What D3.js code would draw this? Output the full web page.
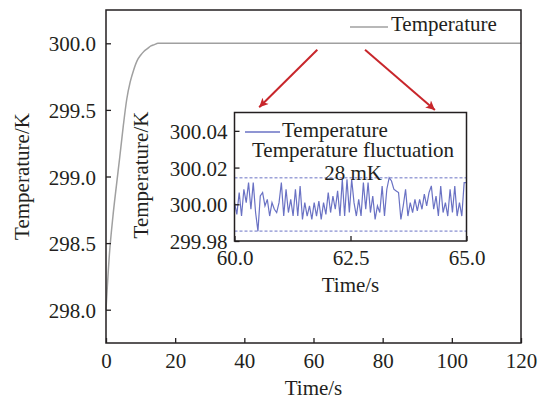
<!DOCTYPE html>
<html><head><meta charset="utf-8">
<script src="https://cdn.jsdelivr.net/npm/d3@7"></script>
<style>body{margin:0;background:#fff}svg{display:block}text{font-family:"Liberation Serif","Times New Roman",serif;fill:#231f20}</style>
</head><body><svg id="c" width="548" height="404"></svg>
<script>
// Main series
const mainTime = [0,1,2,3,4,5,6,7,8,9,10,11,12,13,14,15,16,20,40,60,80,100,120];
const mainTemp = [298.00,298.42,298.70,298.93,299.15,299.38,299.58,299.71,299.80,299.87,299.91,299.94,299.96,299.98,299.99,300.00,300.00,300.00,300.00,300.00,300.00,300.00,300.00];
const mainXTicks = [0,20,40,60,80,100,120];
const mainYTicks = [298.0,298.5,299.0,299.5,300.0];
// Inset series (60 s – 65 s)
const insetTemp = [300.0009,299.9945,300.0064,299.9936,300.0082,300.0009,300.0118,299.9973,300.0118,299.9955,
299.9854,300.0045,300.0064,299.9991,300.0027,299.9936,300.0009,299.9973,299.9955,300.0009,
300.0118,299.9936,300.0082,299.9955,300.0027,299.9936,300.0082,299.9936,300.0100,299.9918,
300.0009,299.9936,299.9991,299.9918,300.0009,299.9936,300.0018,299.9918,300.0009,299.9945,
300.0064,299.9955,300.0045,299.9973,300.0073,299.9936,300.0136,299.9936,300.0136,299.9955,
300.0136,300.0009,299.9936,300.0027,299.9936,300.0118,299.9973,300.0118,299.9955,300.0045,
299.9918,299.9991,299.9955,300.0100,299.9936,300.0082,300.0145,300.0127,300.0082,300.0073,
300.0064,299.9918,299.9991,300.0082,299.9936,300.0009,299.9955,300.0027,299.9964,300.0027,
299.9973,300.0055,299.9991,300.0064,300.0100,299.9973,300.0045,299.9936,300.0100,299.9955,
300.0009,299.9936,300.0082,299.9955,300.0100,299.9936,300.0009,299.9936,300.0118,300.0118];
const insetStart = 60, insetEnd = 65;
const insetXTicks = [60.0,62.5,65.0];
const insetYTicks = [299.98,300.00,300.02,300.04];
const bandTop = 300.0144, bandBottom = 299.9854;
const legendLabel = "Temperature";
const noteLines = ["Temperature fluctuation","28 mK"];
// arrows in main-chart data coordinates [t0,T0,t1,T1]
const arrows = [[61.1,299.951,44.3,299.52],[74.9,299.951,95.1,299.50]];

const svg = d3.select("#c");
const ink = "#231f20", grey = "#a0a0a0", blue = "#6a72c4", red = "#c8262b";
const FS = 21;

// ---------- main chart ----------
const M = {l:106,t:10,r:521,b:343};
const x = d3.scaleLinear().domain([0,120]).range([M.l,M.r]);
const y = d3.scaleLinear().domain([297.75,300.25]).range([M.b,M.t]);

svg.append("defs").append("marker").attr("id","ah").attr("viewBox","0 0 10 10")
  .attr("refX",10).attr("refY",5).attr("markerWidth",5).attr("markerHeight",4.5)
  .attr("orient","auto").attr("markerUnits","strokeWidth")
  .append("path").attr("d","M0,0L10,5L0,10L2.5,5Z").attr("fill",red);

svg.append("path").datum(mainTime.map((t,i)=>[t,mainTemp[i]]))
  .attr("fill","none").attr("stroke",grey).attr("stroke-width",1.5)
  .attr("d",d3.line().x(d=>x(d[0])).y(d=>y(d[1])).curve(d3.curveMonotoneX));

const gx = svg.append("g").attr("transform",`translate(0,${M.b})`)
  .call(d3.axisBottom(x).tickValues(mainXTicks).tickFormat(d3.format("d")).tickSizeInner(-5).tickSizeOuter(0).tickPadding(10));
const gy = svg.append("g").attr("transform",`translate(${M.l},0)`)
  .call(d3.axisLeft(y).tickValues(mainYTicks).tickFormat(d3.format(".1f")).tickSizeInner(-5).tickSizeOuter(0).tickPadding(10));
[gx,gy].forEach(g=>{g.select(".domain").remove();
  g.selectAll("line").attr("stroke",ink).attr("stroke-width",1.3);
  g.selectAll("text").attr("font-size",FS).attr("font-family","Liberation Serif").attr("fill",ink);});
gx.selectAll("text").attr("dy","0.71em");
gy.selectAll("text").attr("dy","0.36em");
svg.append("rect").attr("x",M.l).attr("y",M.t).attr("width",M.r-M.l).attr("height",M.b-M.t)
  .attr("fill","none").attr("stroke",ink).attr("stroke-width",1.5);

svg.append("text").attr("x",(M.l+M.r)/2).attr("y",395).attr("text-anchor","middle").attr("font-size",FS).text("Time/s");
svg.append("text").attr("transform",`translate(29,${(M.t+M.b)/2}) rotate(-90)`).attr("text-anchor","middle").attr("font-size",FS).text("Temperature/K");

// main legend
svg.append("line").attr("x1",350).attr("x2",388).attr("y1",27).attr("y2",27).attr("stroke",grey).attr("stroke-width",1.5);
svg.append("text").attr("x",391).attr("y",31).attr("font-size",FS).text(legendLabel);

// arrows
arrows.forEach(a=>svg.append("line").attr("x1",x(a[0])).attr("y1",y(a[1])).attr("x2",x(a[2])).attr("y2",y(a[3]))
  .attr("stroke",red).attr("stroke-width",2).attr("marker-end","url(#ah)"));

// ---------- inset ----------
const I = {l:234.5,t:112.5,r:466.5,b:241};
const ix = d3.scaleLinear().domain([insetStart,insetEnd]).range([I.l,I.r]);
const iy = d3.scaleLinear().domain([299.98,300.05]).range([I.b,I.t]);
svg.append("rect").attr("x",I.l).attr("y",I.t).attr("width",I.r-I.l).attr("height",I.b-I.t).attr("fill","#fff");

[bandTop,bandBottom].forEach(v=>svg.append("line").attr("x1",I.l).attr("x2",I.r).attr("y1",iy(v)).attr("y2",iy(v))
  .attr("stroke",blue).attr("stroke-width",1).attr("stroke-dasharray","3,2"));

const n = insetTemp.length;
svg.append("path").datum(insetTemp)
  .attr("fill","none").attr("stroke",blue).attr("stroke-width",1.2)
  .attr("d",d3.line().x((d,i)=>ix(insetStart+i*(insetEnd-insetStart)/(n-1))).y(d=>iy(d)));

const igx = svg.append("g").attr("transform",`translate(0,${I.b})`)
  .call(d3.axisBottom(ix).tickValues(insetXTicks).tickFormat(d3.format(".1f")).tickSizeInner(-5).tickSizeOuter(0).tickPadding(9));
const igy = svg.append("g").attr("transform",`translate(${I.l},0)`)
  .call(d3.axisLeft(iy).tickValues(insetYTicks).tickFormat(d3.format(".2f")).tickSizeInner(-5).tickSizeOuter(0).tickPadding(7));
[igx,igy].forEach(g=>{g.select(".domain").remove();
  g.selectAll("line").attr("stroke",ink).attr("stroke-width",1.3);
  g.selectAll("text").attr("font-size",FS).attr("font-family","Liberation Serif").attr("fill",ink);});
igx.selectAll("text").attr("dy","0.71em");
igy.selectAll("text").attr("dy","0.36em");
svg.append("rect").attr("x",I.l).attr("y",I.t).attr("width",I.r-I.l).attr("height",I.b-I.t)
  .attr("fill","none").attr("stroke",ink).attr("stroke-width",1.5);

svg.append("text").attr("x",(I.l+I.r)/2).attr("y",292).attr("text-anchor","middle").attr("font-size",FS).text("Time/s");
svg.append("text").attr("transform",`translate(148,175) rotate(-90)`).attr("text-anchor","middle").attr("font-size",FS).text("Temperature/K");

svg.append("line").attr("x1",245).attr("x2",280).attr("y1",132).attr("y2",132).attr("stroke",blue).attr("stroke-width",1.3);
svg.append("text").attr("x",282).attr("y",137).attr("font-size",FS).text(legendLabel);
svg.append("text").attr("x",353).attr("y",157).attr("text-anchor","middle").attr("font-size",FS).text(noteLines[0]);
svg.append("text").attr("x",353).attr("y",180).attr("text-anchor","middle").attr("font-size",FS).text(noteLines[1]);
</script></body></html>
